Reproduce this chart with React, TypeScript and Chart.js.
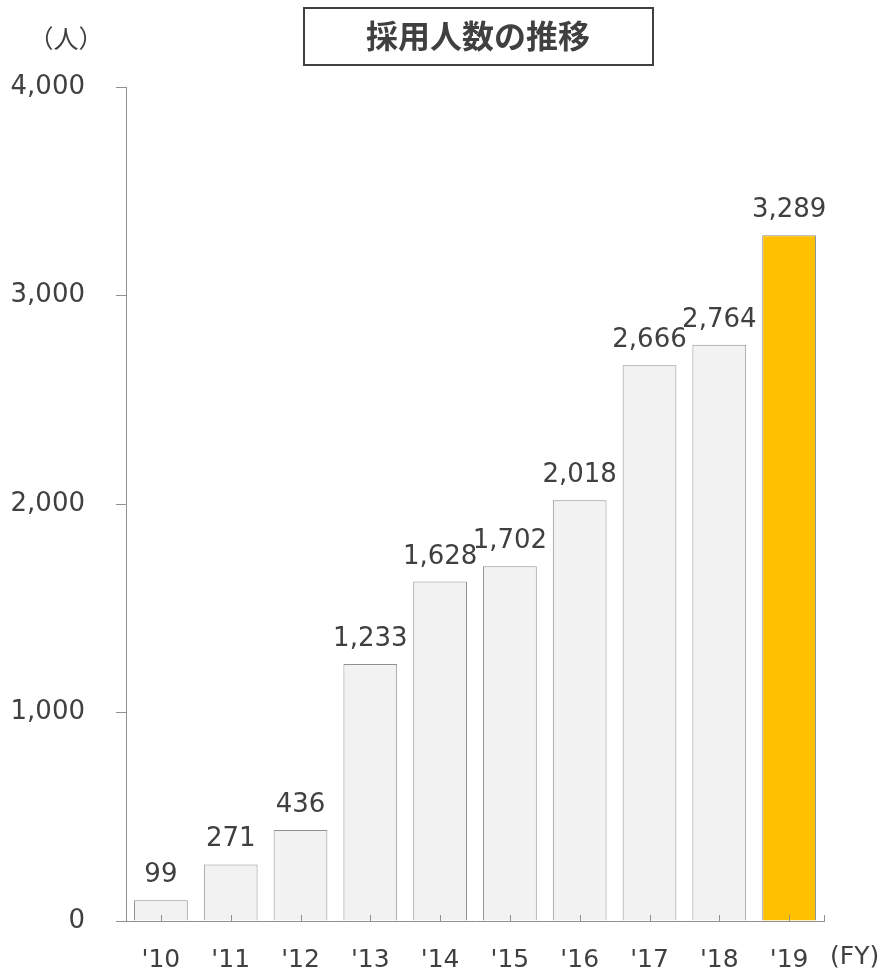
import React, { useEffect, useRef } from "react";
import { Chart, registerables } from "chart.js";

Chart.register(...registerables);

const categories = ["'10", "'11", "'12", "'13", "'14", "'15", "'16", "'17", "'18", "'19"];
const hires = [99, 271, 436, 1233, 1628, 1702, 2018, 2666, 2764, 3289];
const yMin = 0;
const yMax = 4000;
const yStep = 1000;
const titleText = "採用人数の推移";
const yUnitText = "（人）";
const xUnitText = "(FY)";
const highlightIndex = 9;

const TEXT = "#404040";
const GRAY = "#909090";
const FONT = "'DejaVu Sans', Verdana, sans-serif";
const CJK = "'Noto Sans CJK JP', 'Noto Sans', sans-serif";

const fmt = (v: number) => v.toLocaleString("en-US");

const decorPlugin = {
  id: "decor",
  afterDatasetsDraw(chart: any) {
    const ctx = chart.ctx;
    const meta = chart.getDatasetMeta(0);
    ctx.save();
    ctx.fillStyle = TEXT;
    ctx.font = `26px ${FONT}`;
    ctx.textAlign = "center";
    ctx.textBaseline = "alphabetic";
    meta.data.forEach((bar: any, i: number) => {
      ctx.fillText(fmt(hires[i]), bar.x, bar.y - 18);
    });
    ctx.restore();
  },
  afterDraw(chart: any) {
    const ctx = chart.ctx;
    const xs = chart.scales.x;
    ctx.save();
    // inward x-axis tick marks
    ctx.strokeStyle = GRAY;
    ctx.lineWidth = 1;
    const ticks = xs.ticks.map((_: any, i: number) => xs.getPixelForTick(i));
    ticks.push(xs.right);
    ticks.forEach((px: number) => {
      const x = Math.round(px) + 0.5;
      ctx.beginPath();
      ctx.moveTo(x, xs.top);
      ctx.lineTo(x, xs.top - 6);
      ctx.stroke();
    });
    // unit labels
    ctx.fillStyle = TEXT;
    ctx.font = `25px ${CJK}`;
    ctx.textAlign = "center";
    ctx.textBaseline = "middle";
    ctx.fillText(yUnitText, 66, 38);
    ctx.font = `25px ${FONT}`;
    ctx.textAlign = "left";
    ctx.textBaseline = "alphabetic";
    ctx.fillText(xUnitText, xs.right + 6, 964);
    // title box
    ctx.strokeStyle = TEXT;
    ctx.lineWidth = 2;
    ctx.strokeRect(304, 8, 349, 57);
    ctx.font = `bold 32px ${CJK}`;
    ctx.textAlign = "center";
    ctx.textBaseline = "middle";
    ctx.fillText(titleText, 478, 36);
    ctx.restore();
  },
};

export default function App() {
  const ref = useRef<HTMLCanvasElement | null>(null);
  useEffect(() => {
    if (!ref.current) return;
    const chart = new Chart(ref.current, {
      type: "bar",
      data: {
        labels: categories,
        datasets: [
          {
            data: hires,
            backgroundColor: hires.map((_, i) => (i === highlightIndex ? "#ffc000" : "#f2f2f2")),
            borderColor: GRAY,
            borderWidth: 1,
            categoryPercentage: 1,
            barPercentage: 0.77,
          },
        ],
      },
      options: {
        animation: false,
        responsive: false,
        devicePixelRatio: 1,
        layout: { padding: { top: 87, right: 59, bottom: 0, left: 0 } },
        plugins: {
          legend: { display: false },
          tooltip: { enabled: false },
          title: { display: false },
        },
        scales: {
          x: {
            grid: { display: false },
            border: { display: true, color: GRAY, width: 1 },
            ticks: {
              color: TEXT,
              font: { family: FONT, size: 25 },
              padding: 16,
              maxRotation: 0,
              autoSkip: false,
            },
            afterFit(scale: any) {
              scale.height = 52;
            },
          },
          y: {
            min: yMin,
            max: yMax,
            grid: {
              display: true,
              drawOnChartArea: false,
              drawTicks: true,
              tickLength: 10,
              color: GRAY,
            },
            border: { display: true, color: GRAY, width: 1 },
            ticks: {
              stepSize: yStep,
              color: TEXT,
              font: { family: FONT, size: 26 },
              padding: 31,
              callback: (v: any) => fmt(Number(v)),
            },
            afterFit(scale: any) {
              scale.width = 126;
            },
          },
        },
      },
      plugins: [decorPlugin],
    });
    return () => chart.destroy();
  }, []);
  return (
    <div style={{ position: "absolute", left: 0, top: 0, width: 883, height: 973, background: "#fff" }}>
      <canvas ref={ref} width={883} height={973} />
    </div>
  );
}
